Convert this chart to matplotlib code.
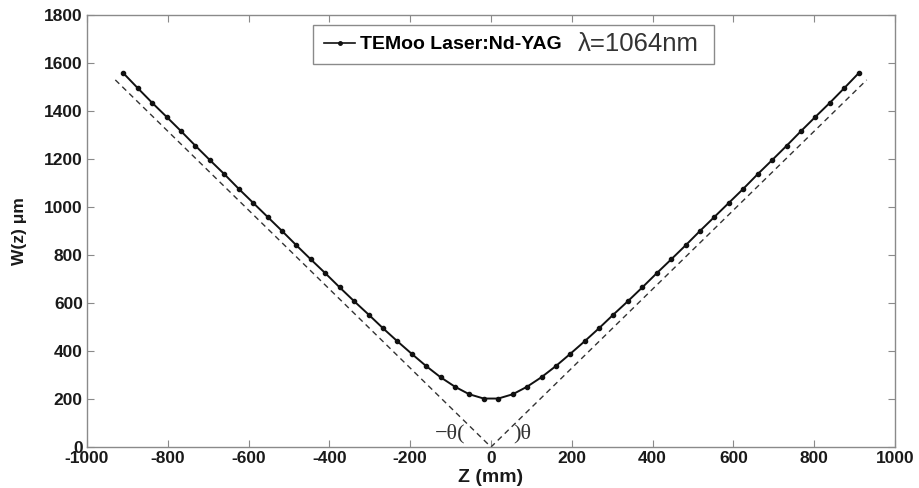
import matplotlib.pyplot as plt
from matplotlib.lines import Line2D

plt.rcParams['axes.unicode_minus'] = False

# Beam radius along the propagation axis (mm -> um)
z_mm = [-910, -874, -839, -803, -767, -732, -696, -660, -625, -589, -553, -517, -482,
        -446, -410, -375, -339, -303, -268, -232, -196, -161, -125, -89, -54, -18,
        18, 54, 89, 125, 161, 196, 232, 268, 303, 339, 375, 410, 446, 482, 517,
        553, 589, 625, 660, 696, 732, 767, 803, 839, 874, 910]
w_um = [1558, 1495, 1435, 1376, 1316, 1256, 1196, 1137, 1077, 1018, 959, 900, 841,
        782, 724, 666, 608, 552, 496, 441, 388, 338, 291, 251, 220, 202,
        202, 220, 251, 291, 338, 388, 441, 496, 552, 608, 666, 724, 782, 841, 900,
        959, 1018, 1077, 1137, 1196, 1256, 1316, 1376, 1435, 1495, 1558]

# far-field asymptotes
asym_z = [-930, 0, 930]
asym_w = [1530, 0, 1530]

xticks = [-1000, -800, -600, -400, -200, 0, 200, 400, 600, 800, 1000]
yticks = [0, 200, 400, 600, 800, 1000, 1200, 1400, 1600, 1800]

fig = plt.figure(figsize=(9.2, 4.88), dpi=100)
ax = fig.add_axes([0.0946, 0.084, 0.8782, 0.885])

ax.plot(asym_z, asym_w, color='#333333', ls=(0, (4, 3)), lw=1.0)
ax.plot(z_mm, w_um, color='#111111', lw=1.4, marker='o', ms=3.0)

ax.set_xlim(-1000, 1000)
ax.set_ylim(0, 1800)
ax.set_xticks(xticks)
ax.set_yticks(yticks)

for s in ax.spines.values():
    s.set_color('#8a8a8a')
    s.set_linewidth(1.0)
ax.tick_params(direction='in', length=5, width=0.8, color='#8a8a8a',
               top=True, right=True, labelsize=12.5, labelcolor='#1a1a1a', pad=3)
for lab in ax.get_xticklabels() + ax.get_yticklabels():
    lab.set_fontfamily('Liberation Sans')
    lab.set_fontweight('bold')

ax.set_xlabel('Z (mm)', fontsize=14, fontweight='bold', family='Liberation Sans',
              color='#1a1a1a', labelpad=2)
ax.set_ylabel('W(z) \u03bcm', fontsize=12.5, fontweight='bold', family='Liberation Sans',
              color='#1a1a1a', labelpad=12)

# angle annotations
ax.text(-64, 56, '\u2212\u03b8(', family='Liberation Serif', fontsize=16,
        ha='right', va='center', color='#333333')
ax.text(55, 56, ')\u03b8', family='Liberation Serif', fontsize=16,
        ha='left', va='center', color='#333333')

handle = Line2D([], [], color='#111111', lw=1.2, marker='o', ms=2.5)
leg = ax.legend([handle], ['TEMoo Laser:Nd-YAG' + '\u2007' * 13],
                loc='upper left', bbox_to_anchor=(0.28, 0.977),
                prop={'family': 'Liberation Sans', 'weight': 'bold', 'size': 14},
                handlelength=1.6, handletextpad=0.25, borderpad=0.55,
                borderaxespad=0, fancybox=False, framealpha=1, edgecolor='#8a8a8a')
ax.text(0.608, 0.932, '\u03bb=1064nm', transform=ax.transAxes, fontsize=18.5,
        family='Liberation Sans', color='#333333', ha='left', va='center', zorder=10)

fig.savefig('out.png', dpi=100)
